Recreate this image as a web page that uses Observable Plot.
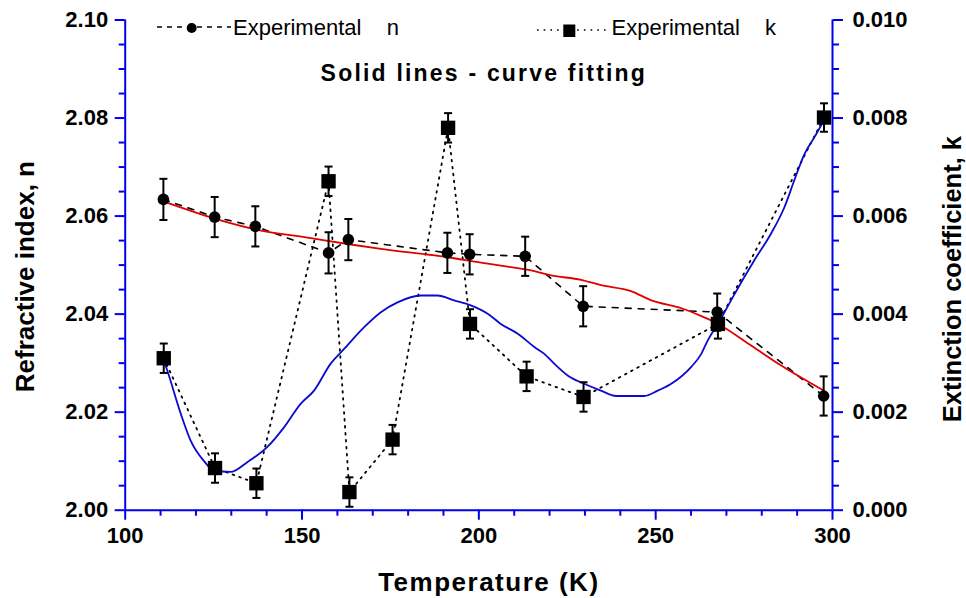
<!DOCTYPE html>
<html><head><meta charset="utf-8">
<script src="https://cdn.jsdelivr.net/npm/d3@7"></script>
<script src="https://cdn.jsdelivr.net/npm/@observablehq/plot@0.6"></script>
<style>
html,body{margin:0;padding:0;background:#fff;}
#chart{width:966px;height:598px;}
</style></head><body><div id="chart"></div>
<script>
// ---- experimental refractive index n ----
const tempN = [110.8, 125.3, 136.8, 157.5, 163.1, 191.1, 197.4, 213.1, 229.5, 267.4, 297.5];
const nExp  = [2.0634, 2.0598, 2.0579, 2.0525, 2.0552, 2.0525, 2.0522, 2.0518, 2.0416, 2.0404, 2.0233];
const nErr  = [0.0042, 0.0041, 0.0041, 0.0042, 0.0042, 0.0041, 0.0041, 0.0040, 0.0041, 0.0038, 0.0040];

// ---- experimental extinction coefficient k ----
const tempK = [110.9, 125.4, 137.1, 157.5, 163.4, 175.6, 191.3, 197.5, 213.5, 229.6, 267.6, 297.6];
const kExp  = [0.00310, 0.00086, 0.00055, 0.00671, 0.00037, 0.00144, 0.00780, 0.00380, 0.00273, 0.00231, 0.00380, 0.00801];
const kErr  = [0.00030, 0.00030, 0.00030, 0.00030, 0.00030, 0.00030, 0.00030, 0.00030, 0.00030, 0.00030, 0.00030, 0.00029];

// ---- fitted curve for n (red) ----
const tempNFit = [110.8, 125.3, 136.8, 152.5, 163.8, 172.3, 191.3, 200.6, 206.2, 214.8, 220.4, 228.9, 234.6, 243.0, 248.8, 257.3, 262.9, 267.4, 277.0, 285.5, 297.5];
const nFit     = [2.0630, 2.0595, 2.0573, 2.0555, 2.0542, 2.0533, 2.0516, 2.0505, 2.0499, 2.0489, 2.0479, 2.0470, 2.0459, 2.0447, 2.0428, 2.0412, 2.0396, 2.0381, 2.0336, 2.0295, 2.0244];

// ---- fitted curve for k (blue) ----
const tempKFit = [110.9, 111.9, 115.7, 118.5, 122.2, 125.1, 129.8, 134.5, 140.2, 144.9, 149.6, 153.4, 158.1, 161.9, 167.5, 172.3, 177.0, 183.6, 188.3, 193.0, 197.7, 202.5, 206.2, 211.0, 215.7, 218.5, 221.3, 225.1, 229.8, 234.5, 238.8, 246.8, 250.6, 254.4, 260.0, 262.9, 264.7, 268.5, 271.3, 277.9, 282.6, 286.4, 289.2, 292.1, 294.9, 297.3];
const kFit     = [0.00306, 0.00285, 0.00197, 0.00142, 0.00101, 0.00081, 0.00078, 0.00098, 0.00129, 0.00169, 0.00217, 0.00244, 0.00299, 0.00329, 0.00373, 0.00404, 0.00424, 0.00438, 0.00438, 0.00428, 0.00418, 0.00401, 0.00380, 0.00360, 0.00333, 0.00319, 0.00299, 0.00275, 0.00258, 0.00244, 0.00233, 0.00233, 0.00244, 0.00258, 0.00292, 0.00319, 0.00346, 0.00391, 0.00428, 0.00510, 0.00564, 0.00618, 0.00673, 0.00727, 0.00761, 0.00792];

// ---- ticks ----
const xMajorTicks = [100, 150, 200, 250, 300];
const xMinorTicks = [110, 120, 130, 140, 160, 170, 180, 190, 210, 220, 230, 240, 260, 270, 280, 290];
const nMajorTicks = [2.00, 2.02, 2.04, 2.06, 2.08, 2.10];
const nMinorTicks = [2.005, 2.010, 2.015, 2.025, 2.030, 2.035, 2.045, 2.050, 2.055, 2.065, 2.070, 2.075, 2.085, 2.090, 2.095];
const kMajorTicks = [0.000, 0.002, 0.004, 0.006, 0.008, 0.010];
const kMinorTicks = [0.0005, 0.0010, 0.0015, 0.0025, 0.0030, 0.0035, 0.0045, 0.0050, 0.0055, 0.0065, 0.0070, 0.0075, 0.0085, 0.0090, 0.0095];

// k is drawn on the n scale: n = 2 + 10 k
const kToN = k => 2 + k * 10;

const nRows = tempN.map((T, i) => ({T, v: nExp[i], e: nErr[i]}));
const kRows = tempK.map((T, i) => ({T, v: kToN(kExp[i]), e: kErr[i] * 10}));
const nFitRows = tempNFit.map((T, i) => ({T, v: nFit[i]}));
const kFitRows = tempKFit.map((T, i) => ({T, v: kToN(kFit[i])}));

const AXIS = "#0000ee";
const capSymbol = {draw(ctx, size) { const r = Math.sqrt(size / Math.PI); ctx.moveTo(-r, 0); ctx.lineTo(r, 0); }};
const FONT = "Liberation Sans, Arial, Helvetica, sans-serif";
const T = {textAnchor: "middle", lineAnchor: "middle", fontWeight: "bold"};

const chart = Plot.plot({
  width: 966, height: 598,
  marginLeft: 124.7, marginRight: 134, marginTop: 19.5, marginBottom: 88.3,
  x: {domain: [100, 300]},
  y: {domain: [2.0, 2.1]},
  style: {fontFamily: FONT, background: "white", color: "black"},
  marks: [
    // axes
    Plot.axisX({ticks: xMajorTicks, tickSize: 10, tickPadding: 7, stroke: AXIS, strokeWidth: 2, fill: "black", fontSize: 22, fontWeight: "bold", tickFormat: d => String(d), label: null}),
    Plot.axisX({ticks: xMinorTicks, tickSize: 6, stroke: AXIS, strokeWidth: 2, fill: "none", label: null}),
    Plot.axisY({ticks: nMajorTicks, anchor: "left", tickSize: 10, tickPadding: 7, stroke: AXIS, strokeWidth: 2, fill: "black", fontSize: 22, fontWeight: "bold", tickFormat: d => d.toFixed(2), label: null}),
    Plot.axisY({ticks: nMinorTicks, anchor: "left", tickSize: 6, stroke: AXIS, strokeWidth: 2, fill: "none", label: null}),
    Plot.axisY({ticks: kMajorTicks.map(kToN), anchor: "right", tickSize: 10, tickPadding: 10, stroke: AXIS, strokeWidth: 2, fill: "black", fontSize: 22, fontWeight: "bold", tickFormat: d => ((d - 2) / 10).toFixed(3), label: null}),
    Plot.axisY({ticks: kMinorTicks.map(kToN), anchor: "right", tickSize: 6, stroke: AXIS, strokeWidth: 2, fill: "none", label: null}),
    Plot.ruleX([100, 300], {stroke: AXIS, strokeWidth: 2}),
    Plot.ruleY([2.0], {stroke: AXIS, strokeWidth: 2}),

    // experimental connecting lines
    Plot.line(nRows, {x: "T", y: "v", stroke: "black", strokeWidth: 1.6, strokeDasharray: "6,7"}),
    Plot.line(kRows, {x: "T", y: "v", stroke: "black", strokeWidth: 1.8, strokeDasharray: "1.6,5.4"}),

    // fitted curves
    Plot.line(nFitRows, {x: "T", y: "v", stroke: "#e00000", strokeWidth: 1.8, curve: "monotone-x"}),
    Plot.line(kFitRows, {x: "T", y: "v", stroke: "#0a0ad0", strokeWidth: 1.8, curve: "monotone-x"}),

    // error bars
    Plot.ruleX(nRows, {x: "T", y1: d => d.v - d.e, y2: d => d.v + d.e, stroke: "black", strokeWidth: 2}),
    Plot.dot(nRows, {x: "T", y: d => d.v + d.e, symbol: capSymbol, r: 4, stroke: "black", strokeWidth: 2}),
    Plot.dot(nRows, {x: "T", y: d => d.v - d.e, symbol: capSymbol, r: 4, stroke: "black", strokeWidth: 2}),
    Plot.ruleX(kRows, {x: "T", y1: d => d.v - d.e, y2: d => d.v + d.e, stroke: "black", strokeWidth: 2}),
    Plot.dot(kRows, {x: "T", y: d => d.v + d.e, symbol: capSymbol, r: 4, stroke: "black", strokeWidth: 2}),
    Plot.dot(kRows, {x: "T", y: d => d.v - d.e, symbol: capSymbol, r: 4, stroke: "black", strokeWidth: 2}),

    // markers
    Plot.dot(nRows, {x: "T", y: "v", r: 5.8, fill: "black", stroke: "none"}),
    Plot.dot(kRows, {x: "T", y: "v", r: 8.1, symbol: "square", fill: "black", stroke: "none"}),

    // titles
    Plot.text(["Solid lines - curve fitting"], {...T, frameAnchor: "top", dx: 5, dy: 54, fontSize: 23}),
    Plot.text(["Temperature (K)"], {...T, frameAnchor: "bottom", dx: 10, dy: 72, fontSize: 26}),
    Plot.text(["Refractive index, n"], {...T, frameAnchor: "left", dx: -99.7, dy: 11.5, rotate: -90, fontSize: 26}),
    Plot.text(["Extinction coefficient, k"], {...T, frameAnchor: "right", dx: 120, dy: 14, rotate: -90, fontSize: 25.5})
  ]
});

document.getElementById("chart").appendChild(chart);
const svg = d3.select(chart);
const spacing = {"Solid lines - curve fitting": "2.2px", "Temperature (K)": "1.5px"};
svg.selectAll("text").each(function() {
  const s = spacing[this.textContent];
  if (s) this.style.letterSpacing = s;
});

// legend
const lg = svg.append("g").attr("font-family", FONT).attr("font-size", 22).attr("fill", "black")
  .attr("text-anchor", "start").attr("font-weight", "normal");
lg.append("line").attr("x1", 157).attr("x2", 231).attr("y1", 27).attr("y2", 27)
  .attr("stroke", "black").attr("stroke-width", 1.6).attr("stroke-dasharray", "5,5");
lg.append("circle").attr("cx", 191.7).attr("cy", 28).attr("r", 5).attr("fill", "black");
lg.append("text").attr("x", 233).attr("y", 35).text("Experimental");
lg.append("text").attr("x", 386.7).attr("y", 35).text("n");
lg.append("line").attr("x1", 537).attr("x2", 606).attr("y1", 30).attr("y2", 30)
  .attr("stroke", "black").attr("stroke-width", 1.6).attr("stroke-dasharray", "1.6,5.1");
lg.append("rect").attr("x", 563.3).attr("y", 24.5).attr("width", 12).attr("height", 12.5).attr("fill", "black");
lg.append("text").attr("x", 611.5).attr("y", 35).text("Experimental");
lg.append("text").attr("x", 765).attr("y", 35).text("k");
</script>
</body></html>
